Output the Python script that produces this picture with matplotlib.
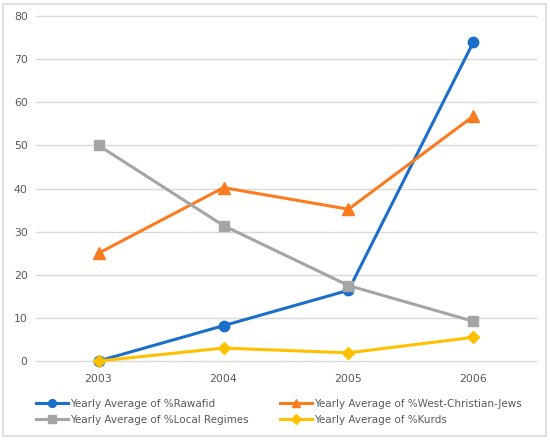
import matplotlib.pyplot as plt
from matplotlib.patches import Rectangle

years = ["2003", "2004", "2005", "2006"]
rawafid = [0, 8.2, 16.4, 74.0]
west_christian_jews = [25.0, 40.2, 35.2, 56.8]
local_regimes = [50.0, 31.4, 17.5, 9.2]
kurds = [0, 3.0, 1.9, 5.5]

series = [
    ("Yearly Average of %Rawafid", rawafid, "#1B6FCB", "o", 7.5),
    ("Yearly Average of %West-Christian-Jews", west_christian_jews, "#FB7B1F", "^", 8),
    ("Yearly Average of %Local Regimes", local_regimes, "#A5A5A5", "s", 7.5),
    ("Yearly Average of %Kurds", kurds, "#FFC000", "D", 6.5),
]

fig = plt.figure(figsize=(5.5, 4.4), dpi=100)
ax = fig.add_axes([0.0655, 0.1795, 0.909, 0.7841])
fig.patches.append(Rectangle((0.006, 0.008), 0.986, 0.984, transform=fig.transFigure,
                             fill=False, edgecolor="#D9D9D9", linewidth=1.2))

x = list(range(len(years)))
handles = {}
for label, vals, color, marker, ms in series:
    (h,) = ax.plot(x, vals, color=color, linewidth=2.2, marker=marker, markersize=ms,
                   label=label, zorder=3, clip_on=False)
    handles[label] = h

ax.set_xlim(-0.5, 3.5)
ax.set_ylim(0, 80)
ax.set_yticks(range(0, 81, 10))
ax.set_xticks(x)
ax.set_xticklabels(years)
ax.grid(axis="y", color="#D9D9D9", linewidth=1)
for gl in ax.get_ygridlines():
    gl.set_clip_on(False)
ax.set_axisbelow(True)
for s in ax.spines.values():
    s.set_visible(False)
ax.tick_params(length=0, labelsize=7.8, labelcolor="#595959", pad=6)
ax.tick_params(axis="x", pad=9)

labels = [s[0] for s in series]
leg_kw = dict(loc="upper left", frameon=False, fontsize=7.5, handlelength=3.1,
              handletextpad=0.15, labelspacing=0.55, borderaxespad=0, borderpad=0,
              markerscale=0.75)
leg1 = fig.legend([handles[labels[0]], handles[labels[2]]], [labels[0], labels[2]],
                  bbox_to_anchor=(0.065, 0.093), **leg_kw)
leg2 = fig.legend([handles[labels[1]], handles[labels[3]]], [labels[1], labels[3]],
                  bbox_to_anchor=(0.509, 0.093), **leg_kw)
for leg in (leg1, leg2):
    for t in leg.get_texts():
        t.set_color("#595959")

fig.savefig("out.png", dpi=100)
